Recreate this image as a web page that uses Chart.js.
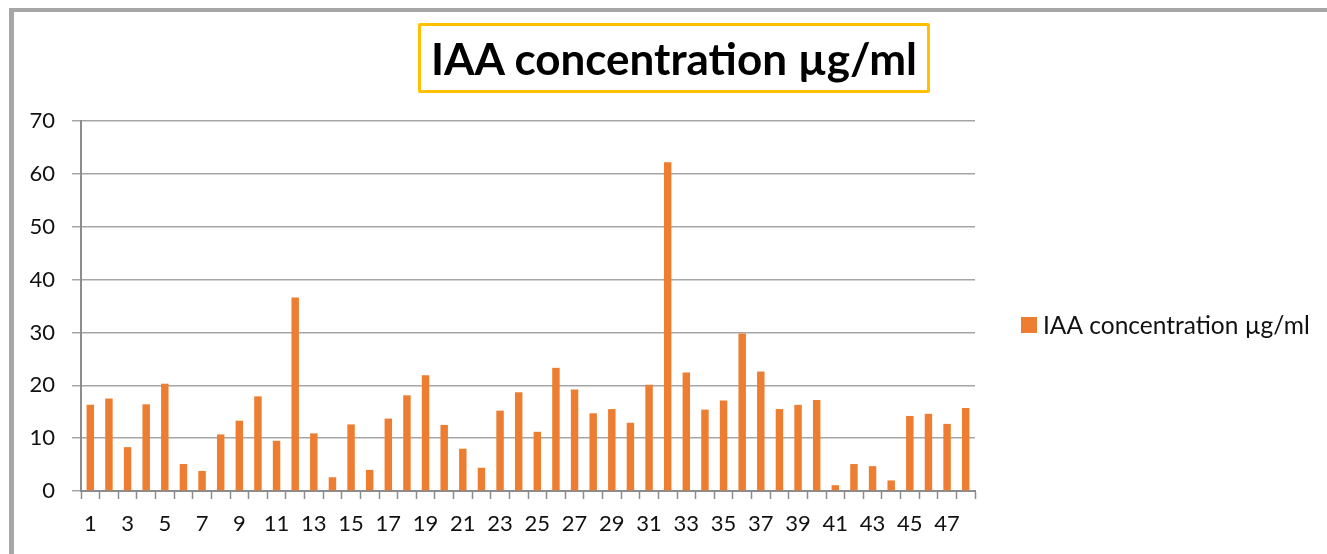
<!DOCTYPE html>
<html>
<head>
<meta charset="utf-8">
<script src="https://cdn.jsdelivr.net/npm/chart.js@4.4.1/dist/chart.umd.min.js"></script>
<style>
  html, body { margin: 0; padding: 0; background: #fff; }
  body { width: 1327px; height: 554px; position: relative; overflow: hidden; font-family: Lato, "Open Sans", sans-serif; }
  #frame {
    position: absolute; left: 9px; top: 8px; right: -10px; bottom: -10px;
    border-top: 4px solid #a6a6a6; border-left: 5px solid #a6a6a6;
  }
  #title {
    position: absolute; left: 418px; top: 23px; width: 506px; height: 64px;
    border: 3.5px solid #ffc000; border-radius: 2px;
    font: bold 44px Lato, sans-serif; color: #000;
    display: flex; align-items: center; justify-content: center; white-space: nowrap;
  }
  #wrap { position: absolute; left: 0; top: 0; width: 1327px; height: 554px; }
</style>
</head>
<body>
<div id="frame"></div>
<div id="wrap"><canvas id="chart" width="1327" height="554"></canvas></div>
<div id="title">IAA concentration µg/ml</div>
<script>
// Sample numbers on the x axis
const samples = [];
for (let i = 1; i <= 48; i++) samples.push(String(i));

// IAA concentration values
const iaaValues = [
  16.3, 17.5, 8.3, 16.4, 20.3, 5.1, 3.8, 10.7, 13.3, 17.9,
  9.5, 36.6, 10.9, 2.6, 12.6, 4.0, 13.7, 18.1, 21.9, 12.5,
  8.0, 4.4, 15.2, 18.7, 11.2, 23.3, 19.2, 14.7, 15.5, 12.9,
  20.1, 62.2, 22.4, 15.4, 17.1, 29.8, 22.6, 15.5, 16.3, 17.2,
  1.1, 5.1, 4.7, 2.0, 14.2, 14.6, 12.7, 15.7
];

const seriesName = 'IAA concentration µg/ml';
const yTicks = [0, 10, 20, 30, 40, 50, 60, 70];

const axisGray = '#8c8c8c';
const gridGray = '#a6a6a6';
const barColor = '#ed7d31';
const tickFont = { family: 'Lato', size: 22 };

// Chart.js caps a right legend at a quarter of the width here, so the
// single legend entry is drawn by hand next to the plot instead
const sideLegend = {
  id: 'sideLegend',
  afterDraw(chart) {
    const { ctx, chartArea } = chart;
    const ds = chart.data.datasets[0];
    const x = chartArea.right + 46;
    const y = (chartArea.top + chartArea.bottom) / 2 + 19;
    ctx.save();
    ctx.fillStyle = ds.backgroundColor;
    ctx.fillRect(x, y - 8, 16, 16);
    ctx.fillStyle = '#111';
    ctx.font = '24.5px Lato';
    ctx.textBaseline = 'middle';
    ctx.fillText(ds.label, x + 22, y + 1);
    ctx.restore();
  }
};

const ctx = document.getElementById('chart').getContext('2d');
new Chart(ctx, {
  type: 'bar',
  data: {
    labels: samples,
    datasets: [{
      label: seriesName,
      data: iaaValues,
      backgroundColor: barColor,
      borderWidth: 0,
      barPercentage: 0.4,
      categoryPercentage: 1
    }]
  },
  plugins: [sideLegend],
  options: {
    responsive: false,
    animation: false,
    devicePixelRatio: 1,
    layout: { padding: { top: 121, left: 0, right: 352, bottom: 0 } },
    plugins: {
      title: { display: false },
      tooltip: { enabled: false },
      legend: { display: false }
    },
    scales: {
      x: {
        offset: true,
        grid: {
          offset: true, drawOnChartArea: false, drawTicks: true,
          tickLength: 8, tickColor: axisGray, tickWidth: 1.5
        },
        border: { color: axisGray, width: 2 },
        ticks: {
          autoSkip: false, maxRotation: 0, minRotation: 0,
          color: '#111', font: tickFont, padding: 12,
          callback: (v, i) => (i % 2 === 0 ? samples[i] : '')
        },
        afterFit: s => { s.height = 554 - 491; }
      },
      y: {
        min: 0, max: 70,
        afterBuildTicks: s => { s.ticks = yTicks.map(v => ({ value: v })); },
        grid: { color: gridGray, lineWidth: 1.5, tickLength: 9, tickColor: gridGray },
        border: { color: axisGray, width: 2 },
        ticks: { color: '#111', font: tickFont, padding: 17 },
        afterFit: s => { s.width = 81; }
      }
    }
  }
});
</script>
</body>
</html>
